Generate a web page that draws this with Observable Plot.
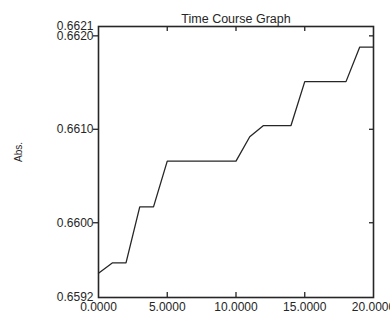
<!DOCTYPE html>
<html><head><meta charset="utf-8">
<script src="https://cdn.jsdelivr.net/npm/d3@7"></script>
<script src="https://cdn.jsdelivr.net/npm/@observablehq/plot@0.6"></script>
<style>
html,body{margin:0;padding:0;background:#fff;}
svg{display:block;}
</style></head><body>
<div id="chart"></div>
<script>
const title = "Time Course Graph";
const yLabel = "Abs.";
const times = [0, 1, 2, 3, 4, 5, 10, 11, 12, 14, 15, 18, 19, 20];
const absValues = [0.65946, 0.65957, 0.65957, 0.66017, 0.66017, 0.66066, 0.66066, 0.66092, 0.66104, 0.66104, 0.66151, 0.66151, 0.66188, 0.66188];
const xTickLabels = [0, 5, 10, 15, 20];
const xInnerTicks = [5, 10, 15];
const yTickLabels = [0.6592, 0.6600, 0.6610, 0.6620, 0.6621];
const yInnerTicks = [0.6600, 0.6610, 0.6620];

const data = times.map((t, i) => ({t, v: absValues[i]}));
const ink = "#262626";
const fmt = d3.format(".4f");

const chart = Plot.plot({
  width: 390,
  height: 315,
  marginLeft: 98,
  marginRight: 17,
  marginTop: 26,
  marginBottom: 18,
  style: {fontFamily: "'Liberation Sans', Arial, sans-serif", color: ink, background: "#fff"},
  x: {domain: [0, 20]},
  y: {domain: [0.6592, 0.6621]},
  marks: [
    Plot.axisX(xTickLabels, {anchor: "bottom", tickSize: 0, tickPadding: 5, tickFormat: fmt, fontSize: 12, label: null, fill: ink}),
    Plot.axisX(xInnerTicks, {anchor: "bottom", tickSize: -5, text: null, label: null, stroke: ink, strokeWidth: 1.3}),
    Plot.axisX(xInnerTicks, {anchor: "top", tickSize: -4, text: null, label: null, stroke: ink, strokeWidth: 1.3}),
    Plot.axisY(yTickLabels, {anchor: "left", tickSize: 0, tickPadding: 5, tickFormat: fmt, fontSize: 12, label: null, fill: ink}),
    Plot.axisY(yInnerTicks, {anchor: "left", tickSize: 5, text: null, label: null, stroke: ink, strokeWidth: 1.3}),
    Plot.axisY(yInnerTicks, {anchor: "right", tickSize: -5, text: null, label: null, stroke: ink, strokeWidth: 1.3}),
    Plot.frame({stroke: ink, strokeWidth: 1.6}),
    Plot.line(data, {x: "t", y: "v", stroke: ink, strokeWidth: 1.3}),
    Plot.text([title], {frameAnchor: "top", dy: -12, fontSize: 12.5, fill: ink}),
    Plot.text([yLabel], {frameAnchor: "left", dx: -80, rotate: -90, fontSize: 10, fill: ink})
  ]
});
document.getElementById("chart").appendChild(chart);
</script>
</body></html>
